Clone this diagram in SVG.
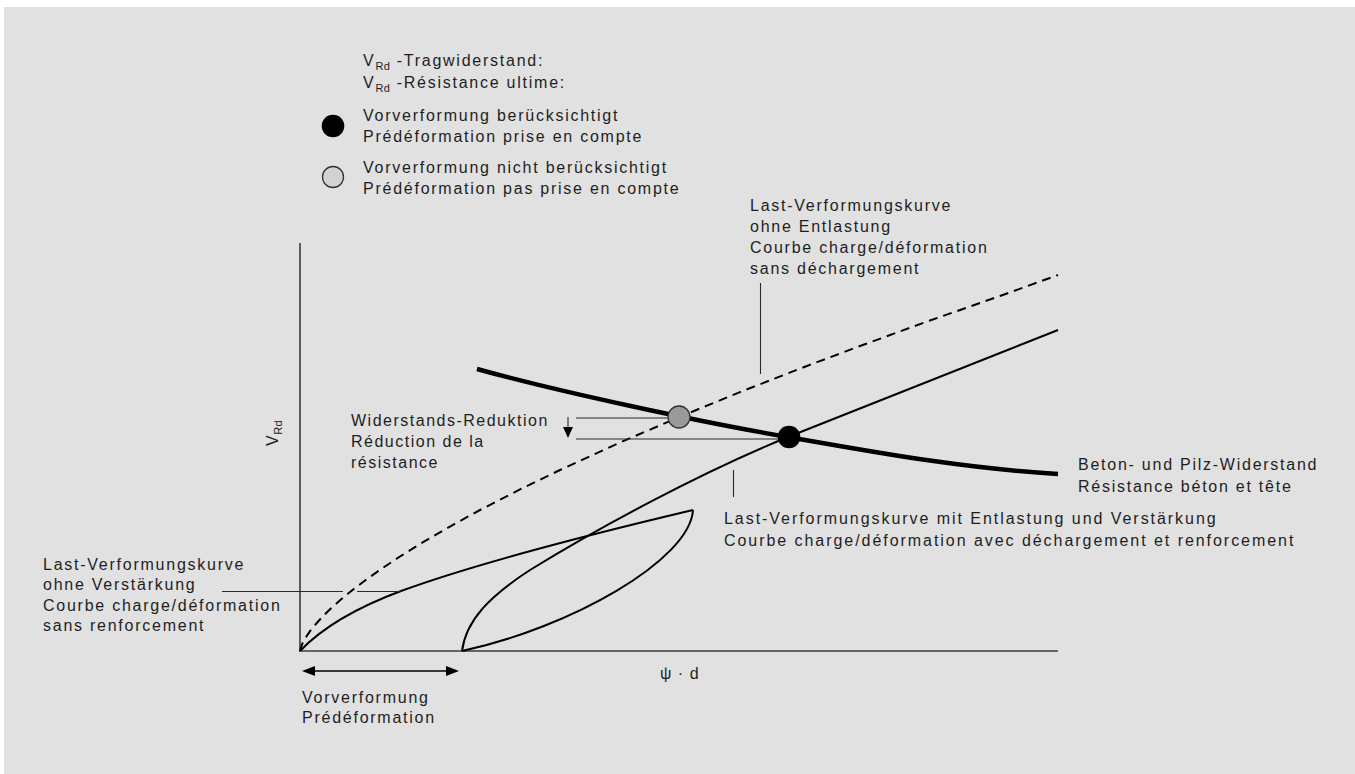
<svg xmlns="http://www.w3.org/2000/svg" width="1355" height="774" viewBox="0 0 1355 774">
<style>
text{font-family:"Liberation Sans",Arial,sans-serif;font-size:16px;fill:#1e1e1e;letter-spacing:1.75px}
.sub{font-size:11px;letter-spacing:0.5px}
.axis{stroke:#3a3a3a;stroke-width:1.6;fill:none}
.curve{stroke:#000;stroke-width:2;fill:none}
.dash{stroke:#000;stroke-width:2;fill:none;stroke-dasharray:9 6}
.thick{stroke:#000;stroke-width:4.5;fill:none}
.lead{stroke:#2a2a2a;stroke-width:1.1;fill:none}
</style>
<rect x="0" y="0" width="1355" height="774" fill="#ffffff"/>
<rect x="4" y="7" width="1351" height="767" fill="#e1e1e1"/>

<g id="legend">
  <text x="363" y="66">V<tspan class="sub" dy="4">Rd</tspan><tspan dy="-4"> -Tragwiderstand:</tspan></text>
  <text x="363" y="88">V<tspan class="sub" dy="4">Rd</tspan><tspan dy="-4"> -Résistance ultime:</tspan></text>
  <circle cx="333" cy="126" r="11.3" fill="#000"/>
  <text x="363" y="121">Vorverformung berücksichtigt</text>
  <text x="363" y="142">Prédéformation prise en compte</text>
  <circle cx="333" cy="177" r="10.5" fill="#d2d2d2" stroke="#333" stroke-width="1.3"/>
  <text x="363" y="173">Vorverformung nicht berücksichtigt</text>
  <text x="363" y="194">Prédéformation pas prise en compte</text>
</g>

<g id="axes">
  <line class="axis" x1="300" y1="243" x2="300" y2="651"/>
  <line class="axis" x1="299" y1="651" x2="1058" y2="651"/>
  <text transform="translate(278,446) rotate(-90)" style="letter-spacing:0.5px">V<tspan class="sub" dy="4">Rd</tspan></text>
  <text x="660" y="679" style="letter-spacing:1px">ψ · d</text>
</g>

<g id="connectors">
  <path class="dash" d="M300,651 L302,644.4 L305,638.7 L310,631.2 L315,625 L322,617.2 L330,609.3 L340,600.3 L350,592 L365,580.5 L380,569.8 L400,556.5 L420,544 L450,526.5 L480,510 L520,489.4 L560,470 L620,442.5 L680,416.7 L740,392.1 L800,368.6 L860,346 L930,320.5 L1000,296 L1058,275"/>
  <path class="curve" d="M300,651 C320,630 350,610 401,591 C480,562 600,532 693,510"/>
  <path class="curve" d="M693,510 C690,560 570,628 462,651"/>
  <path class="curve" d="M462,651 C466,620 490,596 530,570 C600,527 700,473 788,437 L1058,330"/>
  <path class="thick" d="M477,369 C560,392 700,422 788,437 C880,453 960,468 1058,474"/>
  <line class="lead" x1="576" y1="418" x2="669" y2="418"/>
  <line class="lead" x1="576" y1="439" x2="780" y2="439"/>
  <line class="lead" x1="568" y1="417" x2="568" y2="428"/>
  <polygon points="563,427 573,427 568,438" fill="#000"/>
  <line class="lead" x1="760.5" y1="283" x2="760.5" y2="374"/>
  <line class="lead" x1="733.5" y1="470" x2="733.5" y2="497"/>
  <line class="lead" x1="222" y1="591.5" x2="343" y2="591.5"/>
  <line class="lead" x1="357" y1="591.5" x2="401" y2="591.5"/>
  <line x1="312" y1="671" x2="449" y2="671" stroke="#000" stroke-width="1.6"/>
  <polygon points="302,671 315,666 315,676" fill="#000"/>
  <polygon points="459,671 446,666 446,676" fill="#000"/>
</g>

<g id="points">
  <circle cx="679" cy="417" r="11" fill="#9a9a9a" stroke="#333" stroke-width="1.3"/>
  <circle cx="789" cy="437" r="11.3" fill="#000"/>
</g>

<g id="label-ohne-entlastung">
  <text x="750" y="211">Last-Verformungskurve</text>
  <text x="750" y="232">ohne Entlastung</text>
  <text x="750" y="253">Courbe charge/déformation</text>
  <text x="750" y="274">sans déchargement</text>
</g>

<g id="label-reduktion" style="letter-spacing:1.5px">
  <text x="351" y="426" style="letter-spacing:1.5px">Widerstands-Reduktion</text>
  <text x="351" y="447" style="letter-spacing:1.5px">Réduction de la</text>
  <text x="351" y="468" style="letter-spacing:1.5px">résistance</text>
</g>

<g id="label-beton">
  <text x="1078" y="470">Beton- und Pilz-Widerstand</text>
  <text x="1078" y="492">Résistance béton et tête</text>
</g>

<g id="label-mit-entlastung">
  <text x="724" y="524" style="letter-spacing:1.95px">Last-Verformungskurve mit Entlastung und Verstärkung</text>
  <text x="724" y="546" style="letter-spacing:1.95px">Courbe charge/déformation avec déchargement et renforcement</text>
</g>

<g id="label-ohne-verstaerkung">
  <text x="43" y="570">Last-Verformungskurve</text>
  <text x="43" y="590">ohne Verstärkung</text>
  <text x="43" y="611">Courbe charge/déformation</text>
  <text x="43" y="631">sans renforcement</text>
</g>

<g id="label-vorverformung">
  <text x="302" y="703">Vorverformung</text>
  <text x="302" y="723">Prédéformation</text>
</g>
</svg>
